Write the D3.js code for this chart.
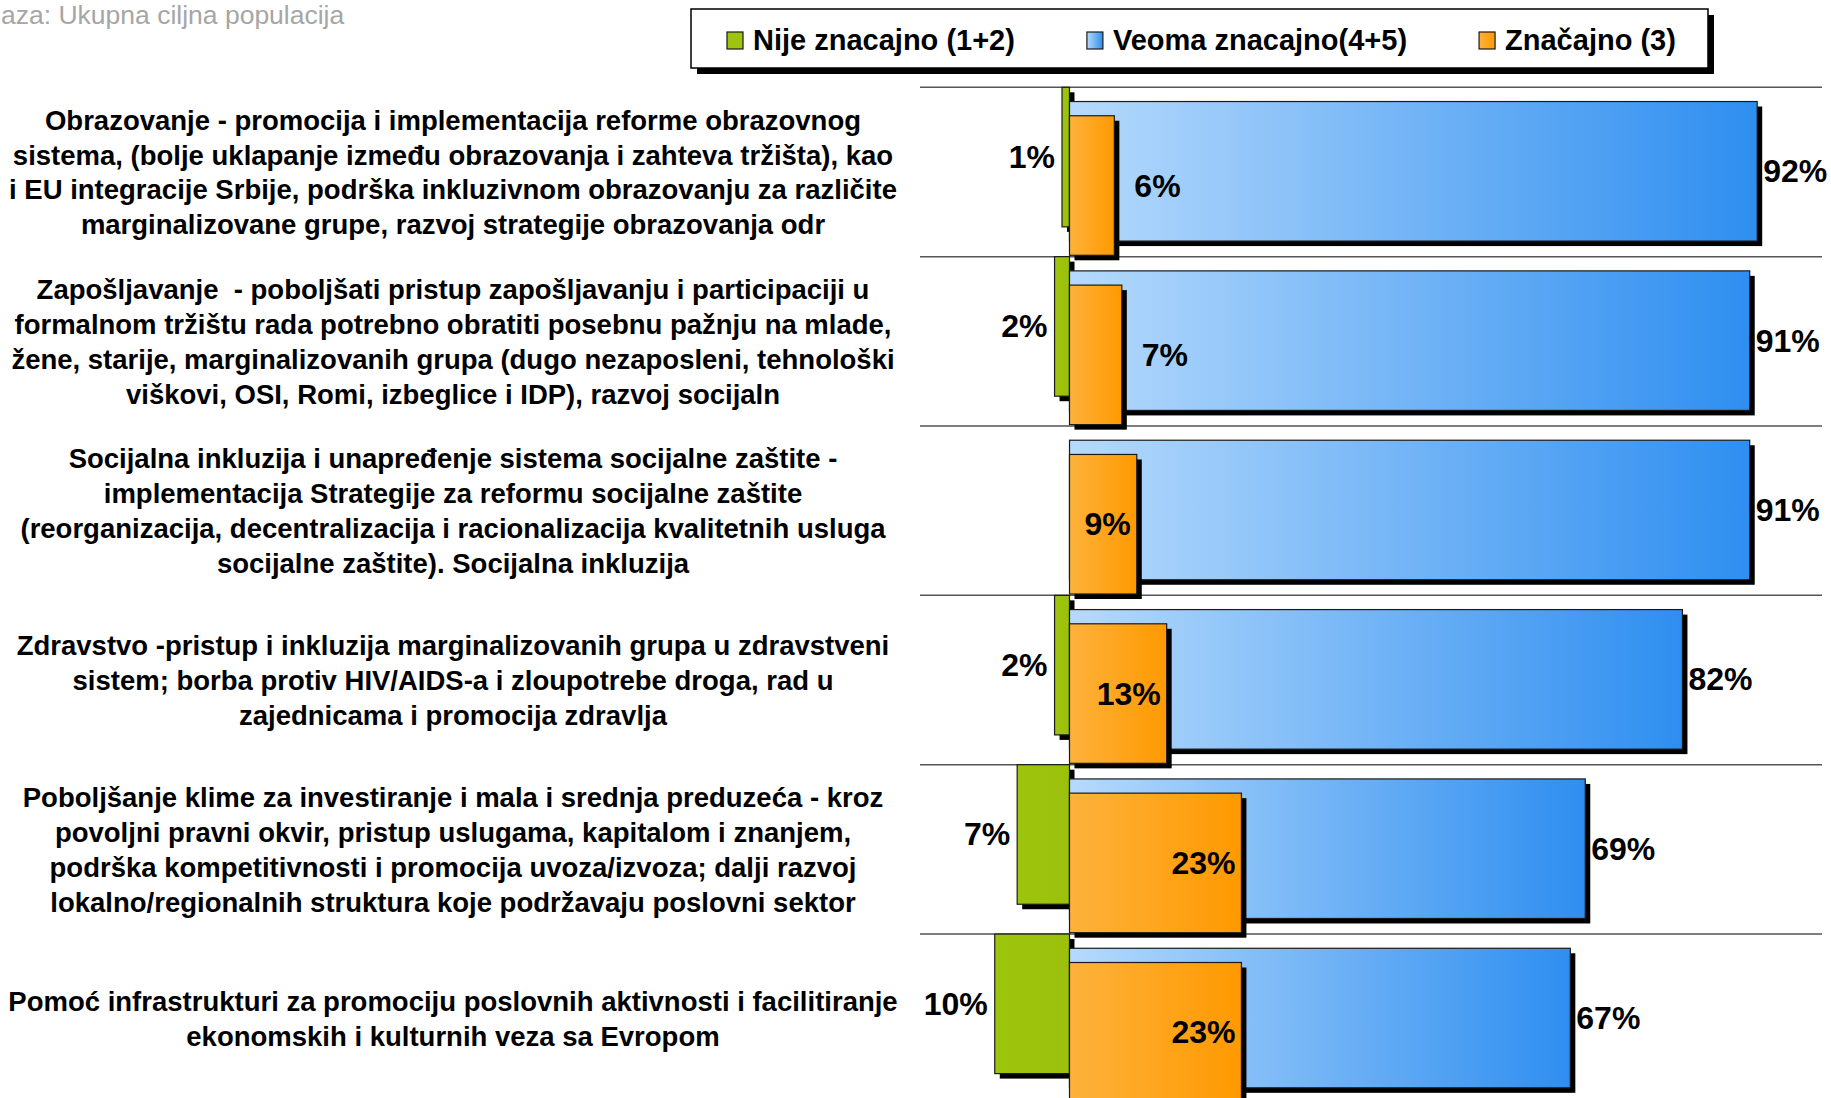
<!DOCTYPE html>
<html>
<head>
<meta charset="utf-8">
<script src="https://cdn.jsdelivr.net/npm/d3@7"></script>
<style>
  html, body { margin: 0; padding: 0; background: #ffffff; overflow: hidden; }
  svg { display: block; font-family: "Liberation Sans", Arial, sans-serif; }
</style>
</head>
<body>
<svg id="chart" width="1831" height="1098"></svg>
<script>
// ---------------- DATA ----------------
const subtitle = "aza: Ukupna ciljna populacija";

const categories = [
  "Obrazovanje - promocija i implementacija reforme obrazovnog\nsistema, (bolje uklapanje između obrazovanja i zahteva tržišta), kao\ni EU integracije Srbije, podrška inkluzivnom obrazovanju za različite\nmarginalizovane grupe, razvoj strategije obrazovanja odr",
  "Zapošljavanje  - poboljšati pristup zapošljavanju i participaciji u\nformalnom tržištu rada potrebno obratiti posebnu pažnju na mlade,\nžene, starije, marginalizovanih grupa (dugo nezaposleni, tehnološki\nviškovi, OSI, Romi, izbeglice i IDP), razvoj socijaln",
  "Socijalna inkluzija i unapređenje sistema socijalne zaštite -\nimplementacija Strategije za reformu socijalne zaštite\n(reorganizacija, decentralizacija i racionalizacija kvalitetnih usluga\nsocijalne zaštite). Socijalna inkluzija",
  "Zdravstvo -pristup i inkluzija marginalizovanih grupa u zdravstveni\nsistem; borba protiv HIV/AIDS-a i zloupotrebe droga, rad u\nzajednicama i promocija zdravlja",
  "Poboljšanje klime za investiranje i mala i srednja preduzeća - kroz\npovoljni pravni okvir, pristup uslugama, kapitalom i znanjem,\npodrška kompetitivnosti i promocija uvoza/izvoza; dalji razvoj\nlokalno/regionalnih struktura koje podržavaju poslovni sektor",
  "Pomoć infrastrukturi za promociju poslovnih aktivnosti i facilitiranje\nekonomskih i kulturnih veza sa Evropom"
];

const seriesNames = ["Nije znacajno (1+2)", "Veoma znacajno(4+5)", "Značajno (3)"];
const nijeZnacajno   = [1, 2, null, 2, 7, 10];   // drawn to the left of zero
const veomaZnacajno  = [92, 91, 91, 82, 69, 67];
const znacajno       = [6, 7, 9, 13, 23, 23];

// ---------------- LAYOUT ----------------
const svg = d3.select("#chart");
const plotLeft = 920, plotRight = 1822;
const x = d3.scaleLinear().domain([-20, 100]).range([920, 1817]);
const y = d3.scaleBand().domain(d3.range(categories.length)).range([87.3, 87.3 + 6 * 169.35]).padding(0);
const bw = y.bandwidth();
const subH = bw * 0.824;
const subStep = bw * 0.084;
const shadow = 5;

// gradients
const defs = svg.append("defs");
function grad(id, c0, c1) {
  const g = defs.append("linearGradient").attr("id", id)
    .attr("x1", "0%").attr("x2", "100%").attr("y1", "0%").attr("y2", "0%");
  g.append("stop").attr("offset", "0%").attr("stop-color", c0);
  g.append("stop").attr("offset", "100%").attr("stop-color", c1);
}
grad("gBlue", "#B6DAFC", "#2E8EF0");
grad("gOrange", "#FDB23C", "#FF9900");
grad("gGreen", "#9EC50E", "#9CC00C");

const fills = ["url(#gGreen)", "url(#gBlue)", "url(#gOrange)"];
const legendFills = ["#9EC40E", "url(#gBlue)", "url(#gOrange)"];

// subtitle
svg.append("text").attr("x", 1).attr("y", 24)
  .attr("font-size", 26.5).attr("fill", "#A6A6A6").text(subtitle);

// separator lines
svg.append("g").selectAll("line")
  .data(d3.range(categories.length + 1))
  .join("line")
  .attr("x1", plotLeft).attr("x2", plotRight)
  .attr("y1", i => i < categories.length ? y(i) : y(i - 1) + bw)
  .attr("y2", i => i < categories.length ? y(i) : y(i - 1) + bw)
  .attr("stroke", "#555").attr("stroke-width", 1.5);

// category labels
const catG = svg.append("g");
const lineH = 34.8;
categories.forEach((c, i) => {
  const lines = c.split("\n");
  const cy = y(i) + bw / 2;
  const t = catG.append("text")
    .attr("text-anchor", "middle")
    .attr("font-size", 27.5).attr("font-weight", "bold").attr("fill", "#000")
    .style("white-space", "pre");
  lines.forEach((ln, k) => {
    t.append("tspan").attr("x", 453)
      .attr("y", cy + (k - (lines.length - 1) / 2) * lineH + 10)
      .text(ln);
  });
});

// bars
function drawBars(values, seriesIdx, x0fn, x1fn) {
  const data = values.map((v, i) => ({ v, i })).filter(d => d.v != null);
  const g = svg.append("g");
  const top = d => y(d.i) + subStep * seriesIdx;
  const items = g.selectAll("g").data(data).join("g");
  items.append("rect")
    .attr("x", d => x0fn(d) + shadow).attr("y", d => top(d) + shadow)
    .attr("width", d => x1fn(d) - x0fn(d)).attr("height", subH)
    .attr("fill", "#000");
  items.append("rect")
    .attr("x", d => x0fn(d)).attr("y", d => top(d))
    .attr("width", d => x1fn(d) - x0fn(d)).attr("height", subH)
    .attr("fill", fills[seriesIdx])
    .attr("stroke", "#1a1a1a").attr("stroke-width", 1.2);
  return data;
}

drawBars(nijeZnacajno, 0, d => x(-d.v), d => x(0));
drawBars(veomaZnacajno, 1, d => x(0), d => x(d.v));
drawBars(znacajno, 2, d => x(0), d => x(d.v));

// value labels
const lab = svg.append("g").attr("font-size", 32).attr("font-weight", "bold").attr("fill", "#000");
nijeZnacajno.forEach((v, i) => {
  if (v == null) return;
  lab.append("text").attr("text-anchor", "end")
    .attr("x", x(-v) - 7).attr("y", y(i) + subH / 2 + 11)
    .text(v + "%");
});
veomaZnacajno.forEach((v, i) => {
  lab.append("text").attr("text-anchor", "start")
    .attr("x", x(v) + 6).attr("y", y(i) + subStep + subH / 2 + 11)
    .text(v + "%");
});
znacajno.forEach((v, i) => {
  const w = x(v) - x(0);
  const yy = y(i) + 2 * subStep + subH / 2 + 11;
  if (w > 60) {
    lab.append("text").attr("text-anchor", "end").attr("x", x(v) - 6).attr("y", yy).text(v + "%");
  } else {
    lab.append("text").attr("text-anchor", "start").attr("x", x(v) + 20).attr("y", yy).text(v + "%");
  }
});

// legend
const lg = svg.append("g");
const lgX = 691, lgY = 9, lgW = 1017, lgH = 59;
lg.append("rect").attr("x", lgX + 6).attr("y", lgY + 6).attr("width", lgW).attr("height", lgH).attr("fill", "#000");
lg.append("rect").attr("x", lgX).attr("y", lgY).attr("width", lgW).attr("height", lgH)
  .attr("fill", "#fff").attr("stroke", "#000").attr("stroke-width", 1.5);
let cx = 727;
seriesNames.forEach((name, k) => {
  lg.append("rect").attr("x", cx).attr("y", 32).attr("width", 16).attr("height", 17)
    .attr("fill", legendFills[k]).attr("stroke", "#1a1a1a").attr("stroke-width", 1.2);
  const t = lg.append("text").attr("x", cx + 26).attr("y", 50)
    .attr("font-size", 29).attr("font-weight", "bold").attr("fill", "#000").text(name);
  cx = cx + 26 + t.node().getComputedTextLength() + 72;
});
</script>
</body>
</html>
